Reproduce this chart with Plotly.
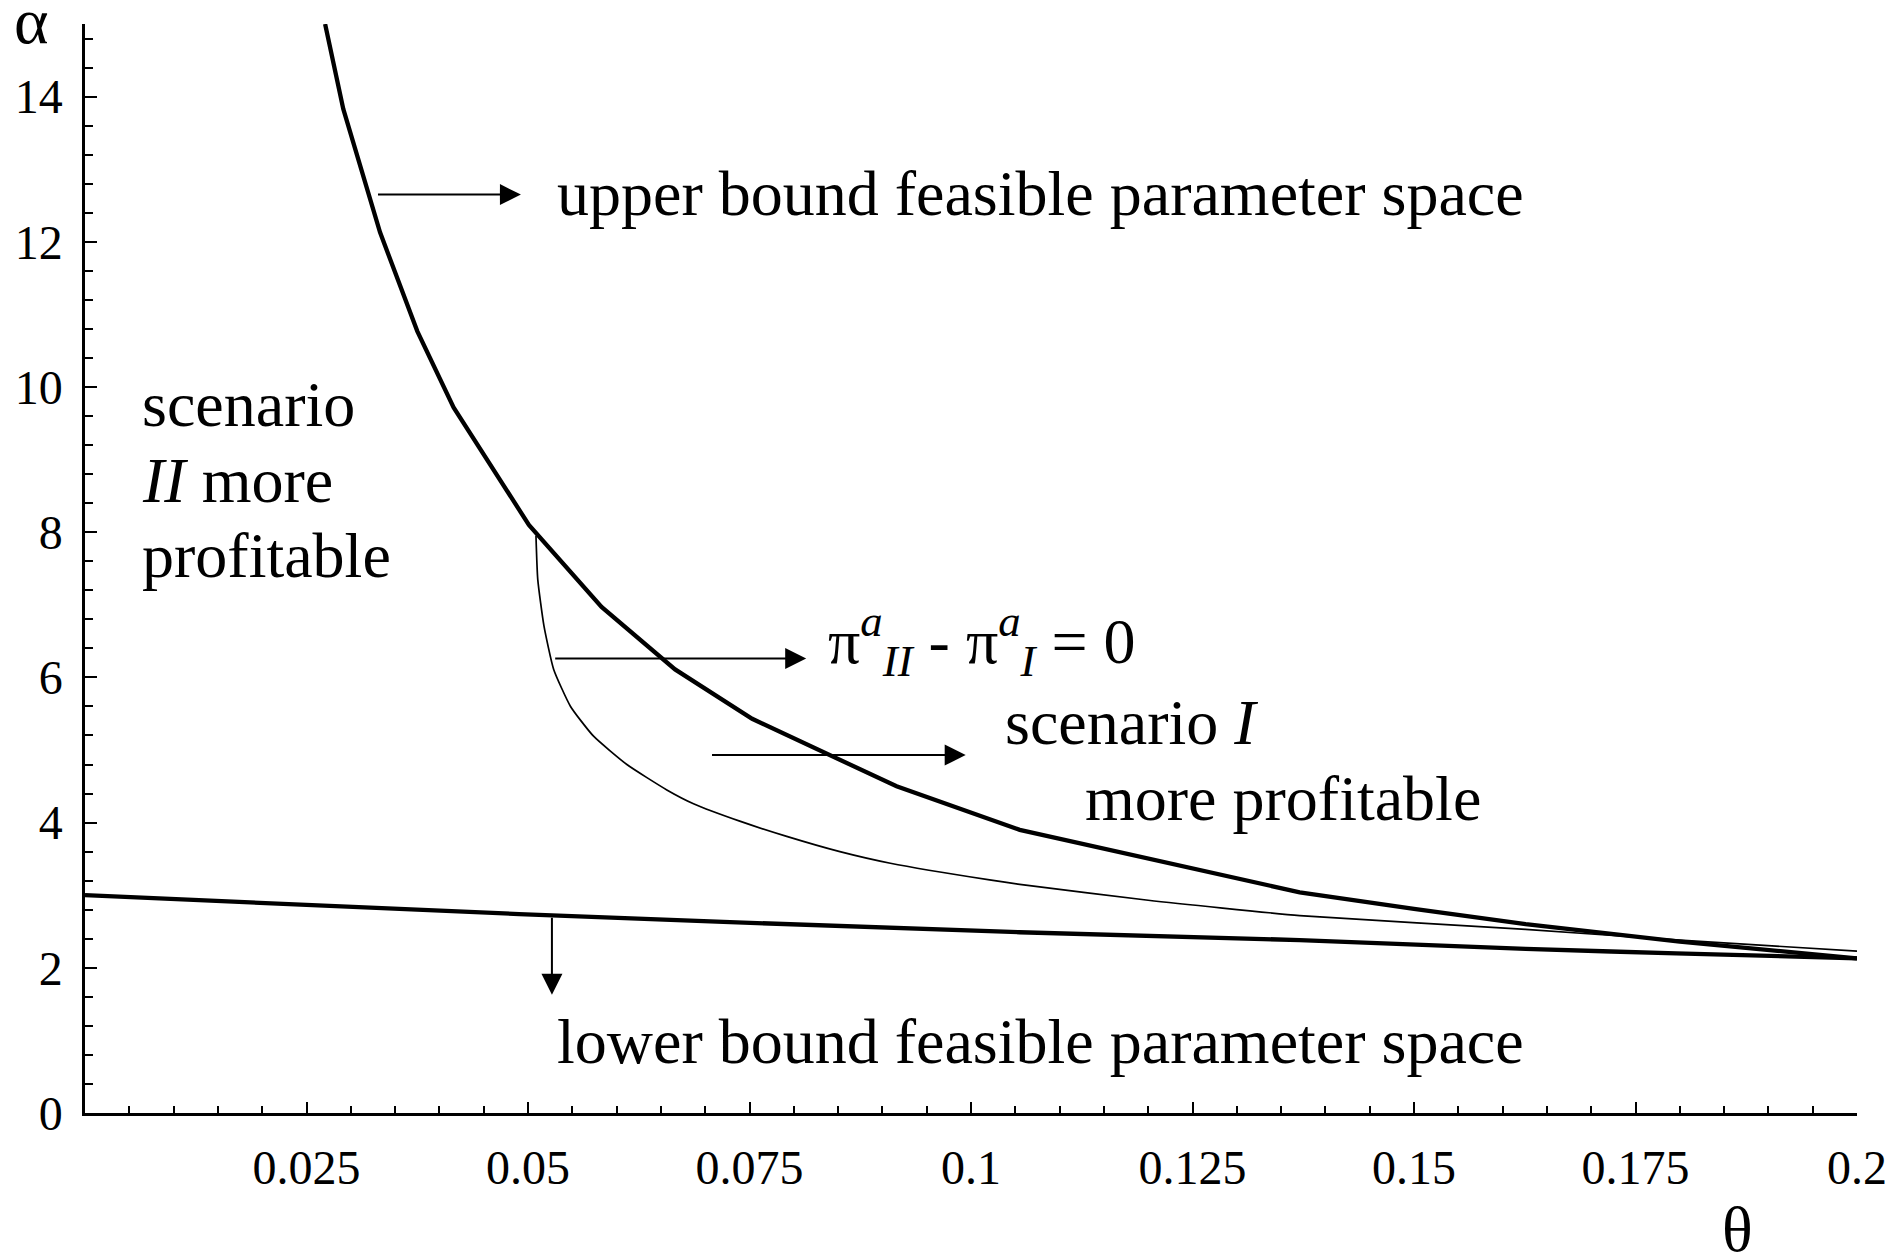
import plotly.graph_objects as go

# ---- data ----
upper_theta = [0.0271, 0.02915, 0.0333, 0.0375, 0.0416, 0.0501, 0.0583, 0.0666, 0.0753,
               0.0916, 0.1055, 0.125, 0.1371, 0.150, 0.1626, 0.180, 0.200]
upper_alpha = [15.0, 13.83, 12.13, 10.77, 9.72, 8.10, 6.97, 6.11, 5.43,
               4.50, 3.90, 3.36, 3.04, 2.81, 2.60, 2.36, 2.13]

diff_theta = [0.0509, 0.0511, 0.0518, 0.0529, 0.0548, 0.0574, 0.06116, 0.06567, 0.06868,
              0.0739, 0.0792, 0.0852, 0.0909, 0.1021, 0.1055, 0.120, 0.1371, 0.1626, 0.180, 0.200]
diff_alpha = [7.95, 7.35, 6.71, 6.11, 5.60, 5.19, 4.80, 4.45, 4.26,
              4.02, 3.81, 3.60, 3.44, 3.21, 3.15, 2.93, 2.72, 2.53, 2.38, 2.23]

lower_theta = [0.0, 0.049, 0.1055, 0.1371, 0.1626, 0.1796, 0.200]
lower_alpha = [3.00, 2.74, 2.49, 2.38, 2.26, 2.20, 2.13]

x_tickvals = [0.025, 0.05, 0.075, 0.1, 0.125, 0.15, 0.175, 0.2]
x_ticktext = ["0.025", "0.05", "0.075", "0.1", "0.125", "0.15", "0.175", "0.2"]
y_tickvals = [0, 2, 4, 6, 8, 10, 12, 14]
y_ticktext = ["0", "2", "4", "6", "8", "10", "12", "14"]

# arrows: (tail_x, tail_y, head_x, head_y)
arrow_tail_x = [0.0329, 0.0529, 0.0706, 0.0527]
arrow_tail_y = [12.65, 6.26, 4.93, 2.71]
arrow_head_x = [0.0492, 0.0814, 0.0994, 0.0527]
arrow_head_y = [12.65, 6.26, 4.93, 1.63]

label_texts = [
    "upper bound feasible parameter space",
    "scenario",
    "<i>II</i> more",
    "profitable",
    "π<sup><i>a</i></sup><sub><i>II</i></sub> - π<sup><i>a</i></sup><sub><i>I</i></sub> = 0",
    "scenario <i>I</i>",
    "more profitable",
    "lower bound feasible parameter space",
]
label_x = [0.0531, 0.00626, 0.00626, 0.00626, 0.0836, 0.1036, 0.1126, 0.0531]
label_y = [12.66, 9.756, 8.708, 7.68, 6.50, 5.38, 4.33, 0.98]

FONT = "Liberation Serif, Times New Roman, serif"

fig = go.Figure()
fig.add_trace(go.Scatter(x=upper_theta, y=upper_alpha, mode="lines",
                         line=dict(color="black", width=4.3), showlegend=False))
fig.add_trace(go.Scatter(x=diff_theta, y=diff_alpha, mode="lines",
                         line=dict(color="black", width=1.7, shape="spline", smoothing=0.5),
                         showlegend=False))
fig.add_trace(go.Scatter(x=lower_theta, y=lower_alpha, mode="lines",
                         line=dict(color="black", width=4.3, shape="spline"), showlegend=False))

annotations = []
for tx, ty, hx, hy in zip(arrow_tail_x, arrow_tail_y, arrow_head_x, arrow_head_y):
    annotations.append(dict(x=hx, y=hy, ax=tx, ay=ty, xref="x", yref="y", axref="x", ayref="y",
                            text="", showarrow=True, arrowhead=2, arrowsize=2.1, arrowwidth=2,
                            arrowcolor="black", standoff=0, startstandoff=0))
for t, x, y in zip(label_texts, label_x, label_y):
    annotations.append(dict(x=x, y=y, xref="x", yref="y", text=t, showarrow=False,
                            xanchor="left", yanchor="middle",
                            font=dict(family=FONT, size=64, color="black")))
annotations.append(dict(x=-0.0302, y=1.003, xref="paper", yref="paper", text="α",
                        showarrow=False, xanchor="center", yanchor="middle",
                        font=dict(family=FONT, size=66, color="black")))
annotations.append(dict(x=0.9323, y=-0.1074, xref="paper", yref="paper", text="θ",
                        showarrow=False, xanchor="center", yanchor="middle",
                        font=dict(family=FONT, size=64, color="black")))

fig.update_layout(
    width=1891, height=1257,
    margin=dict(l=84.5, r=34, t=24, b=144, autoexpand=False),
    paper_bgcolor="white", plot_bgcolor="white",
    font=dict(family=FONT, size=48, color="black"),
    annotations=annotations,
    xaxis=dict(range=[0, 0.2], showgrid=False, zeroline=False, showline=True,
               linecolor="black", linewidth=2.5, ticks="inside", ticklen=11, tickwidth=2,
               tickcolor="black", tickmode="array", tickvals=x_tickvals, ticktext=x_ticktext,
               tickfont=dict(family=FONT, size=48, color="black"), ticklabelstandoff=11,
               automargin=False,
               minor=dict(tickmode="linear", tick0=0, dtick=0.005, ticks="inside",
                          ticklen=7, tickwidth=2, tickcolor="black", showgrid=False)),
    yaxis=dict(range=[0, 15], showgrid=False, zeroline=False, showline=True,
               linecolor="black", linewidth=2.5, ticks="inside", ticklen=12, tickwidth=2,
               tickcolor="black", tickmode="array", tickvals=y_tickvals, ticktext=y_ticktext,
               tickfont=dict(family=FONT, size=48, color="black"), ticklabelstandoff=10,
               automargin=False,
               minor=dict(tickmode="linear", tick0=0, dtick=0.4, ticks="inside",
                          ticklen=8, tickwidth=2, tickcolor="black", showgrid=False)),
)

fig.write_html("out.html", config={"displayModeBar": False},
               post_script="document.body.style.margin='0';")
